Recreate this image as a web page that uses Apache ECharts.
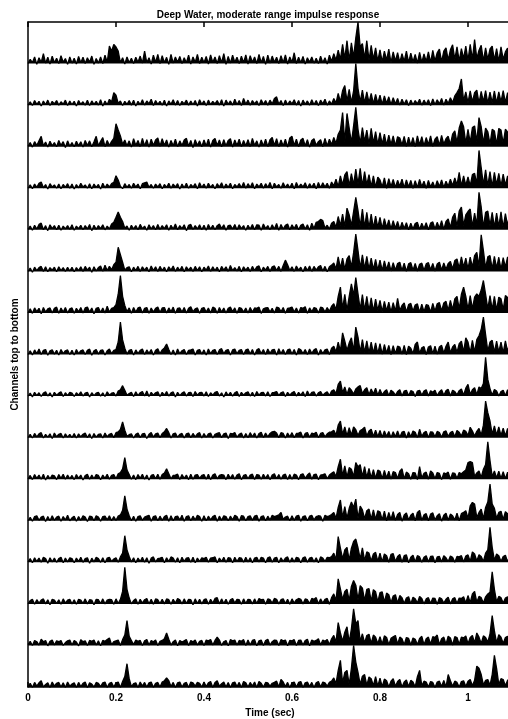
<!DOCTYPE html>
<html>
<head>
<meta charset="utf-8">
<title>Deep Water, moderate range impulse response</title>
<script src="https://cdn.jsdelivr.net/npm/echarts@6/dist/echarts.min.js"></script>
<style>
  html, body { margin: 0; padding: 0; background: #fff; }
  #chart { width: 508px; height: 719px; }
</style>
</head>
<body>
<div id="chart"></div>
<script>
// Impulse response per hydrophone channel, in percent of the channel spacing.
// One sample every 5 ms, starting at t = 0.
const sampleStep = 0.005;

const ch01 = [0,10,2,16,-2,14,3,24,1,15,-1,18,2,13,0,19,3,12,-2,16,
  1,13,-1,17,2,15,0,14,3,18,-2,12,1,16,0,20,3,42,30,46,
  40,30,2,14,-1,16,2,13,0,15,3,18,1,30,2,14,-1,20,3,22,
  0,19,2,15,-2,22,1,16,3,17,0,14,2,20,-1,16,3,22,0,15,
  2,17,-1,21,3,16,0,19,2,24,-2,17,1,20,3,15,0,18,2,21,
  -1,19,3,16,0,22,2,17,-2,20,1,18,3,15,0,19,2,21,-1,16,
  3,26,0,15,2,17,-1,14,3,16,1,13,0,18,2,14,-1,20,5,24,
  8,32,10,46,12,55,8,50,15,62,100,40,48,12,55,8,44,10,38,6,
  33,4,30,8,35,2,28,6,26,3,24,5,30,2,25,4,22,1,27,3,
  23,5,28,2,32,6,26,35,4,30,38,8,33,45,10,40,6,36,12,42,
  8,46,10,58,12,32,44,6,38,10,35,42,8,36,5,40,10,28,37,6,34];

const ch02 = [0,8,-1,11,2,9,-2,10,1,12,-1,9,3,11,0,8,2,12,-1,10,
  1,9,-2,11,2,8,0,12,-1,10,2,9,0,13,-2,10,1,14,8,30,
  24,4,10,-1,9,2,11,0,12,-2,9,1,13,0,10,3,14,-1,11,2,
  9,0,12,-2,10,2,13,0,11,-1,9,3,12,0,10,1,11,-2,13,2,
  10,-1,12,1,9,3,11,0,13,-2,12,2,10,0,14,1,11,-1,16,2,
  12,0,11,3,10,-1,13,2,11,0,12,3,16,20,2,11,-1,12,1,10,
  3,13,0,11,-2,12,2,10,0,13,1,11,-1,12,3,14,0,10,2,16,
  5,28,8,35,47,10,38,6,34,100,40,8,36,5,32,6,28,3,26,4,
  24,2,22,4,20,1,18,3,16,0,14,2,13,-1,12,1,11,3,14,0,
  12,2,13,-1,15,1,13,3,16,0,14,4,18,6,22,30,40,63,10,32,
  6,34,8,30,36,5,33,8,35,4,31,6,34,5,32,8,35,6,30,4,33];

const ch03 = [1,10,-1,12,3,14,25,2,11,-1,13,2,10,0,15,3,12,-2,14,1,
  10,0,13,2,12,-1,15,3,14,0,12,25,2,13,22,0,15,3,13,20,
  55,40,26,6,16,2,14,-1,19,3,15,0,20,2,17,-1,18,3,16,21,
  1,19,3,16,-1,15,2,18,0,14,3,16,20,1,15,-2,17,3,14,0,
  16,2,18,-1,15,20,3,16,0,17,2,15,19,-1,16,3,18,0,15,2,
  17,0,20,3,14,-1,16,2,18,0,17,22,3,19,0,16,2,18,-1,21,
  25,3,18,0,16,20,2,17,-1,15,19,3,12,17,0,20,2,18,5,22,
  8,30,40,82,12,80,45,10,50,95,42,8,46,12,40,6,44,8,36,5,
  34,6,30,3,28,5,26,2,24,21,4,25,1,23,3,22,0,26,4,24,
  2,22,5,26,1,18,24,3,27,6,19,25,5,30,38,10,45,62,48,8,
  42,10,46,50,12,70,48,8,45,36,6,42,38,5,44,40,8,42,35,6,40];

const ch04 = [0,8,-1,10,2,12,15,1,9,-2,11,3,8,0,10,-1,9,2,11,0,
  10,-2,9,1,12,3,8,0,11,-1,10,2,9,-2,12,1,10,3,11,14,
  30,20,5,-1,11,2,9,0,12,3,10,-1,11,13,15,2,9,0,10,3,
  11,-1,9,2,12,0,10,3,11,-2,10,1,12,0,9,3,11,-1,13,2,
  10,0,12,2,9,-1,11,3,13,0,10,2,12,-1,9,3,11,1,14,0,
  11,2,13,-1,10,3,12,0,11,2,14,-1,12,3,9,0,13,2,10,1,
  12,-1,14,2,10,3,13,0,11,2,12,-1,14,1,13,3,12,0,15,6,
  22,4,30,8,32,40,6,35,8,46,10,48,5,40,8,33,4,30,2,27,
  20,3,25,0,23,4,21,2,19,5,22,1,20,3,19,0,18,2,21,4,
  17,0,19,3,15,1,18,4,20,2,17,5,22,6,25,8,38,5,30,7,
  27,6,33,36,10,91,50,8,44,6,40,4,38,8,36,5,34,7,30,4,33];

const ch05 = [1,9,-1,11,2,13,16,0,10,-2,12,3,10,0,11,-1,9,2,10,1,
  12,-1,9,3,11,0,10,2,13,-2,11,1,10,3,12,0,9,2,14,18,
  30,43,30,20,4,9,-1,11,2,10,0,13,3,9,-1,12,2,10,0,13,
  1,10,3,12,-1,11,2,14,0,10,3,12,-2,11,13,1,10,2,12,0,
  11,-1,13,2,11,0,10,14,3,12,-1,10,11,2,13,0,12,3,10,-1,
  11,2,13,0,12,11,-1,14,3,10,0,12,2,15,-1,13,2,11,14,0,
  12,3,13,0,11,14,2,12,-1,16,3,18,20,25,22,4,11,2,16,20,
  6,32,10,38,8,52,36,10,44,78,46,8,50,6,42,5,38,4,33,6,
  30,3,27,5,24,2,22,4,20,1,18,3,17,0,16,2,15,18,1,16,
  3,17,0,16,19,2,18,4,22,1,20,26,5,30,40,8,45,55,10,36,
  44,50,8,40,12,90,55,6,42,45,10,42,6,40,8,43,5,39,10,41,6];

const ch06 = [0,8,-2,10,2,9,12,0,11,-1,9,3,10,-1,11,2,9,0,10,1,
  10,-1,9,2,11,0,12,3,10,-2,11,1,9,13,0,15,2,12,4,16,
  22,58,40,22,3,9,11,-1,10,2,12,0,11,3,10,-1,13,2,11,0,
  12,2,10,-1,11,3,13,0,10,2,12,-1,11,3,10,0,12,2,11,-1,
  10,3,13,0,11,2,10,-1,12,3,11,0,14,2,9,1,12,-1,11,3,
  10,0,12,2,11,13,-1,10,3,12,0,11,13,2,12,0,14,27,16,2,
  11,0,13,3,10,-1,12,2,13,0,12,3,11,14,1,12,-1,11,15,20,
  6,35,8,32,5,30,38,10,45,90,50,8,40,6,36,5,32,4,29,3,
  27,2,25,4,23,1,21,3,19,22,2,20,0,18,21,3,19,1,17,20,
  2,18,21,4,19,1,18,22,3,20,5,19,24,6,26,30,8,35,10,32,
  6,34,10,38,46,12,88,50,8,35,38,6,36,8,34,5,33,10,35,4,32];

const ch07 = [0,10,-1,12,3,11,-2,13,2,10,12,0,11,14,-1,12,2,13,0,10,
  12,-1,11,3,13,0,12,14,2,12,-2,11,13,1,12,0,16,2,11,13,
  20,45,90,40,18,3,12,-1,13,2,12,14,0,11,13,-1,12,2,11,14,
  1,12,13,0,12,3,14,-1,11,12,2,13,0,11,15,3,10,12,-1,11,
  13,2,12,0,14,11,-1,13,2,12,0,11,14,3,12,-1,13,11,2,12,
  0,13,2,12,11,14,-1,10,12,13,2,11,0,14,12,3,13,-1,11,12,
  14,2,12,0,13,11,15,-1,12,3,13,11,0,14,12,2,13,4,16,22,
  8,40,62,10,45,6,40,70,42,85,46,8,44,6,40,5,36,4,33,6,
  30,3,28,5,26,2,25,4,35,6,18,24,2,20,23,4,19,22,1,21,
  3,20,18,2,23,4,22,25,5,24,28,6,30,8,34,40,10,45,62,40,
  8,42,10,38,46,40,55,78,45,10,42,8,40,6,38,34,8,42,37,6,39];

const ch08 = [0,9,-1,11,2,13,0,10,12,-2,9,11,1,10,-1,12,2,9,11,0,
  10,-1,12,2,9,11,0,10,13,-2,9,12,1,10,11,-1,9,13,2,10,
  12,30,78,35,15,1,10,12,-1,11,2,10,13,0,11,3,12,-1,10,14,
  2,11,16,25,12,0,11,-1,13,2,9,12,0,10,11,13,-1,10,12,1,
  11,-1,13,2,10,12,0,11,14,2,10,12,-1,11,13,2,10,12,0,11,
  13,1,12,-1,11,14,2,12,0,13,3,11,12,-1,14,2,12,0,11,13,
  1,12,-1,14,11,2,12,0,13,3,11,14,-1,12,2,11,13,0,15,20,
  6,30,8,52,32,10,28,40,8,66,42,6,36,5,33,4,30,3,28,2,
  26,1,24,3,22,0,21,2,20,18,1,22,0,20,15,2,24,30,3,16,
  19,0,18,21,2,20,1,18,22,3,20,30,4,18,24,5,26,32,6,40,
  30,4,34,6,36,45,60,90,48,8,30,34,5,32,6,30,4,33,7,30,5];

const ch09 = [0,7,-2,9,1,8,-1,7,10,0,8,-2,9,2,7,10,-1,8,1,9,
  7,-1,8,2,10,0,7,9,-2,8,1,7,9,0,8,-1,10,2,7,8,
  0,12,15,25,14,2,6,9,-1,10,1,8,11,0,12,-1,9,2,8,10,
  -1,9,2,11,0,8,10,-2,9,1,7,10,0,8,9,-1,11,2,8,9,
  0,10,-1,8,2,9,11,0,8,-2,10,1,9,0,8,11,-1,9,2,8,
  10,0,9,-1,11,2,8,9,0,10,-1,8,9,11,1,8,10,-1,9,2,
  8,11,0,9,2,10,-1,12,1,9,10,0,8,11,2,7,10,1,12,15,
  6,28,36,8,22,4,20,14,5,17,22,25,6,15,20,3,17,5,19,2,
  16,3,11,15,1,14,10,2,11,15,0,12,14,1,13,11,-1,12,14,2,
  12,15,0,13,9,14,1,10,15,2,13,16,0,14,11,3,13,17,2,19,
  28,4,15,20,3,22,18,30,93,40,18,2,16,12,0,11,14,1,15,2,11];

const ch10 = [0,8,-1,10,2,9,12,-1,8,1,9,-2,11,2,8,10,-1,9,1,8,
  0,10,-1,9,2,8,11,0,9,-2,10,1,8,9,-1,11,2,8,10,0,
  12,14,20,38,18,3,7,9,-1,8,11,0,9,10,-2,8,12,1,9,11,
  0,10,14,22,12,-1,9,11,1,8,10,-1,9,11,0,10,2,9,12,-1,
  10,1,9,11,-1,8,10,12,0,9,11,-2,10,9,12,1,8,11,-1,10,
  0,12,2,11,-1,10,13,0,11,2,10,14,15,11,0,12,10,-1,11,2,
  12,0,10,11,13,-1,10,12,1,11,9,13,0,10,12,2,9,13,14,18,
  6,30,40,8,26,4,24,6,26,19,5,17,20,25,4,16,20,3,18,2,
  17,1,16,3,15,0,14,2,16,1,13,15,-1,14,2,16,13,0,20,3,
  12,15,0,14,13,2,15,12,1,14,16,3,12,15,2,17,13,4,18,15,
  5,25,16,4,15,22,6,30,88,60,40,8,28,6,26,5,23,4,22,3,21];

const ch11 = [1,9,-1,11,2,10,0,12,-2,9,1,10,8,-1,11,2,12,0,10,1,
  9,-1,11,2,10,-2,9,12,0,10,1,11,9,-1,10,2,12,0,9,11,
  1,13,16,25,52,22,11,0,10,-1,11,2,12,0,10,-2,9,11,1,12,
  0,11,15,25,13,1,9,10,12,-1,11,2,10,-1,12,0,10,11,2,9,
  11,0,12,-1,10,13,1,9,11,10,-1,12,2,11,0,10,13,-1,9,11,
  1,10,12,-1,11,10,0,12,2,11,-1,10,13,1,11,0,10,12,-1,11,
  0,12,10,-1,11,13,2,10,15,0,11,12,-1,10,11,13,1,10,14,18,
  6,30,48,8,32,5,28,24,6,40,30,35,6,30,4,26,3,23,2,22,
  19,1,21,3,19,0,18,16,2,19,25,1,17,13,0,16,15,-1,30,3,
  14,17,0,20,15,1,16,14,-1,15,13,17,0,15,14,2,16,13,18,22,
  40,42,40,6,15,20,4,24,35,90,45,6,20,3,19,2,18,1,17,2,13];

const ch12 = [0,8,-1,10,12,1,9,11,-2,10,0,12,1,9,11,-1,10,2,13,0,
  7,11,-1,10,1,12,9,-2,11,10,0,12,9,-1,10,11,2,12,0,10,
  1,11,14,25,60,28,12,0,11,-1,10,12,1,9,11,13,-1,10,12,0,
  11,1,10,13,-1,12,0,10,11,2,13,-1,10,12,0,11,2,13,10,-1,
  12,0,11,2,10,13,-1,11,1,12,10,0,11,2,13,10,-1,12,11,0,
  10,12,1,11,13,-1,10,12,0,11,2,13,10,12,14,20,3,9,11,0,
  12,1,11,13,-1,10,12,0,11,13,2,10,12,11,-1,13,10,12,15,20,
  6,32,50,8,34,6,30,45,32,52,6,35,26,5,24,28,4,26,3,24,
  21,2,23,0,20,3,22,1,15,20,-1,14,19,2,13,18,0,20,25,1,
  14,17,0,16,19,2,12,17,-1,13,18,1,16,12,2,18,0,17,20,24,
  6,36,44,40,8,20,28,5,32,45,88,40,30,6,20,23,3,22,17,2,16];

const ch13 = [1,9,-1,11,2,10,0,12,9,-2,11,1,10,0,9,12,-1,10,1,11,
  9,-1,10,2,12,0,9,11,-2,10,1,12,9,0,11,-1,10,12,2,8,
  11,0,13,22,64,30,14,1,11,-1,10,2,12,0,11,-2,10,13,1,9,
  10,12,-1,11,2,13,10,0,11,-1,12,2,10,11,0,12,-1,10,2,11,
  9,12,0,10,11,13,-1,10,2,12,0,11,10,-1,12,2,11,10,0,12,
  1,11,-1,10,12,1,12,10,-1,11,13,0,10,12,-1,11,2,10,13,0,
  11,1,12,10,-1,11,13,0,10,12,1,11,-1,13,10,2,12,11,14,22,
  6,62,34,8,30,36,5,34,50,56,35,8,35,4,25,22,3,20,24,2,
  22,1,20,16,0,19,21,2,14,19,0,16,18,-1,12,17,1,16,13,0,
  12,16,1,14,15,-1,13,14,1,16,11,2,15,12,0,14,13,16,1,15,
  18,2,25,20,3,18,14,2,22,30,84,36,5,20,16,2,14,17,1,16,12];

const ch14 = [0,8,11,-1,10,2,9,12,0,10,-2,11,9,1,10,-1,12,2,9,11,
  0,10,-1,11,9,1,12,0,10,9,-2,11,10,1,12,0,9,11,10,-1,
  12,1,11,30,88,35,14,0,8,12,-1,11,2,10,13,0,11,-1,12,10,
  1,11,0,12,10,-1,11,2,13,10,0,12,1,11,10,-2,12,1,11,0,
  10,12,-1,11,2,13,15,0,12,1,11,-1,10,13,2,11,10,-1,12,1,
  11,10,0,12,1,13,10,11,-1,12,10,2,13,11,0,10,12,1,11,-1,
  12,2,10,13,11,0,12,10,1,13,11,15,0,12,2,11,13,-1,15,24,
  8,60,36,10,30,35,8,42,56,45,10,44,38,8,35,37,6,34,29,5,
  27,29,4,26,22,3,19,22,2,20,15,1,14,17,0,16,12,2,18,13,
  0,12,15,1,14,13,-1,15,12,2,11,16,0,12,15,1,14,13,17,2,
  20,3,24,30,4,18,15,2,17,24,28,77,35,5,18,15,2,14,17,1,16];

const ch15 = [2,10,0,12,9,1,15,9,12,-1,10,13,1,11,9,12,0,7,11,13,
  1,12,8,-1,14,9,11,0,12,10,13,1,11,-1,12,10,14,18,2,9,
  11,13,0,14,25,60,22,12,2,13,10,12,0,11,14,1,12,9,13,0,
  10,12,16,30,15,1,9,13,-1,12,8,11,14,0,12,9,13,1,10,12,
  0,13,11,14,1,12,20,13,0,9,12,-1,14,11,13,1,12,10,14,0,
  13,1,12,14,-1,11,13,0,12,15,1,9,13,12,0,14,11,13,-1,12,
  11,14,0,12,13,1,12,15,-1,13,10,12,16,1,13,10,14,2,16,24,
  8,55,30,10,32,45,8,40,88,52,60,10,28,6,24,27,5,25,20,4,
  21,3,23,19,2,17,21,24,3,20,16,2,19,17,1,18,15,2,17,22,
  2,16,20,3,21,19,25,2,16,20,3,22,18,1,21,19,3,20,18,23,
  4,19,24,6,30,20,5,23,19,8,28,72,35,6,26,20,5,19,22,4,21];

const ch16 = [1,9,-1,11,2,10,15,0,6,10,-1,12,2,9,11,0,10,-1,12,2,
  7,10,-1,11,1,9,12,-2,10,7,0,11,9,1,10,12,-1,9,11,0,
  10,12,-1,13,25,56,20,1,8,10,-1,12,2,11,0,10,12,-1,9,11,
  0,12,15,22,15,1,11,-1,10,12,0,9,11,-1,12,10,2,11,9,0,
  12,1,10,13,-1,11,15,2,8,12,0,11,-1,10,12,1,11,-1,13,10,
  0,11,2,12,-1,13,9,0,11,10,2,9,11,14,0,18,12,1,11,-1,
  10,12,0,11,13,-1,10,12,1,11,-1,10,13,0,12,10,2,11,14,22,
  8,40,64,10,35,40,6,45,100,60,35,6,26,30,4,24,20,3,25,2,
  21,1,19,15,0,14,20,2,13,18,0,12,17,1,16,12,0,25,40,3,
  14,12,0,13,11,-1,12,14,1,16,0,30,15,2,14,11,0,13,15,1,
  14,18,3,16,50,45,30,5,16,18,4,30,76,45,6,20,18,3,16,20,2];

// Channels listed top to bottom; each is drawn on its own baseline.
const channels = [ch01, ch02, ch03, ch04, ch05, ch06, ch07, ch08,
                  ch09, ch10, ch11, ch12, ch13, ch14, ch15, ch16];

const chart = echarts.init(document.getElementById('chart'), null, { renderer: 'canvas' });

const font = 'Liberation Sans, Arial, Helvetica, sans-serif';

// Each trace is filled down to its own baseline, so dense oscillations read as a solid band.
const series = channels.map((values, idx) => {
  const baseline = channels.length - 1 - idx;
  return {
    type: 'line',
    name: 'Channel ' + (idx + 1),
    showSymbol: false,
    symbol: 'none',
    silent: true,
    clip: true,
    lineStyle: { color: '#000', width: 1.3 },
    areaStyle: { color: '#000', opacity: 1, origin: baseline },
    data: values.map((v, i) => [i * sampleStep, baseline + v / 100])
  };
});

const axisCommon = {
  type: 'value',
  min: 0,
  max: 1.1,
  interval: 0.2,
  splitLine: { show: false },
  axisLine: { show: true, onZero: false, lineStyle: { color: '#000', width: 1.5 } },
  axisTick: { show: true, inside: true, length: 5, lineStyle: { color: '#000', width: 1.5 } }
};

chart.setOption({
  animation: false,
  backgroundColor: '#fff',
  title: {
    text: 'Deep Water, moderate range impulse response',
    left: 263,
    top: 5,
    textAlign: 'center',
    textStyle: { fontFamily: font, fontSize: 10, fontWeight: 'bold', color: '#000' }
  },
  grid: { left: 28, right: -4, top: 22, bottom: 32, outerBoundsMode: 'none', containLabel: false },
  xAxis: [
    Object.assign({}, axisCommon, {
      position: 'bottom',
      name: 'Time (sec)',
      nameLocation: 'middle',
      nameGap: 20,
      nameTextStyle: { fontFamily: font, fontSize: 10, fontWeight: 'bold', color: '#000' },
      axisLabel: {
        show: true, margin: 6, fontFamily: font, fontSize: 10, fontWeight: 'bold', color: '#000',
        showMaxLabel: false
      }
    }),
    Object.assign({}, axisCommon, {
      position: 'top',
      axisLabel: { show: false }
    })
  ],
  yAxis: {
    type: 'value',
    min: 0,
    max: channels.length,
    interval: 1,
    name: 'Channels top to bottom',
    nameLocation: 'middle',
    nameGap: 8,
    nameTextStyle: { fontFamily: font, fontSize: 10, fontWeight: 'bold', color: '#000' },
    axisLine: { show: true, lineStyle: { color: '#000', width: 1.5 } },
    axisTick: { show: false },
    axisLabel: { show: false },
    splitLine: { show: false }
  },
  series: series
});
</script>
</body>
</html>
